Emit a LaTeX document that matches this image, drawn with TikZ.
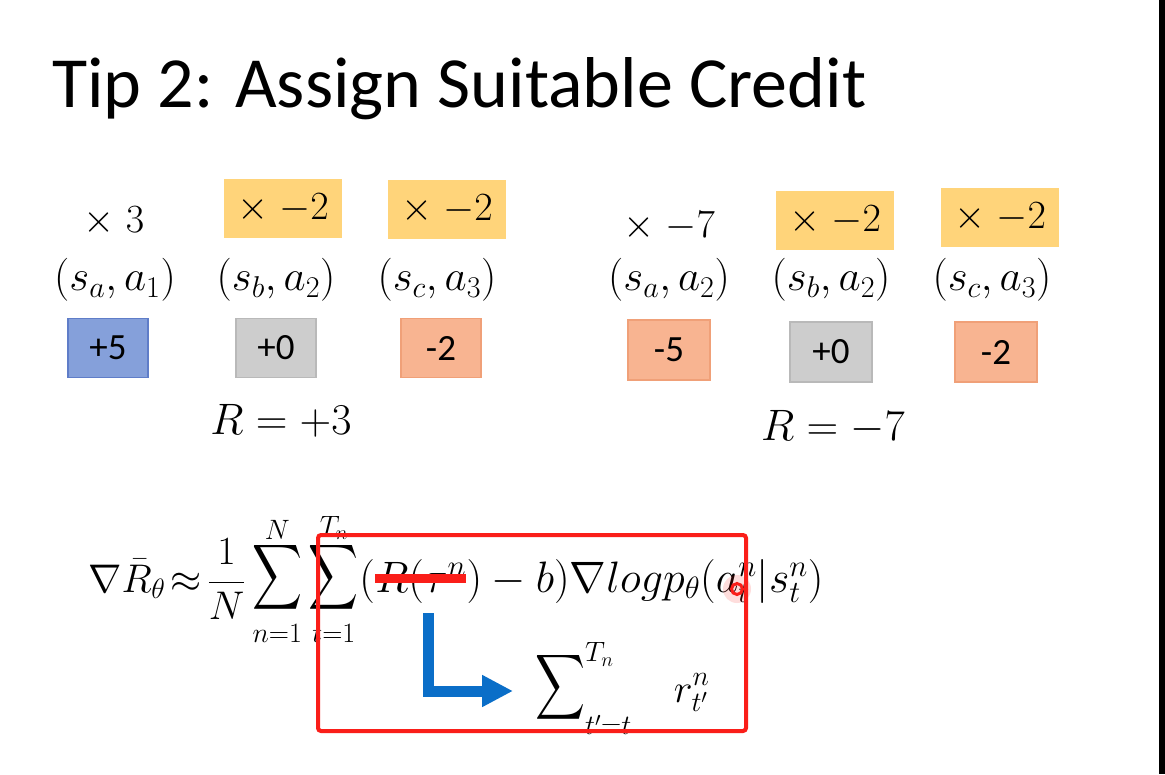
\RequirePackage{fix-cm}
\documentclass[tikz,border=0pt]{standalone}
\usepackage{graphicx}
\usepackage[no-math]{fontspec}
\setmainfont{Carlito}
\usetikzlibrary{arrows.meta,calc}
\definecolor{ogold}{RGB}{255,212,122}
\definecolor{bfill}{RGB}{133,160,218}
\definecolor{bdraw}{RGB}{95,125,200}
\definecolor{gfill}{RGB}{205,205,205}
\definecolor{gdraw}{RGB}{185,185,185}
\definecolor{sfill}{RGB}{248,180,145}
\definecolor{sdraw}{RGB}{240,160,120}
\definecolor{hred}{RGB}{250,30,25}
\definecolor{arrblue}{RGB}{10,110,200}
\newcommand{\tallsum}{\mathop{\vcenter{\hbox{\resizebox*{50pt}{82pt}{$\displaystyle\sum$}}}}}
\begin{document}
\begin{tikzpicture}[x=1pt,y=-1pt,
  mathlbl/.style={inner sep=0pt, font=\fontsize{40}{48}\selectfont},
  pairlbl/.style={inner sep=0pt, font=\fontsize{43}{50}\selectfont},
  obox/.style={fill=ogold, minimum width=118pt, minimum height=59pt, inner sep=0pt, font=\fontsize{40}{48}\selectfont},
  rbox/.style={line width=1.2pt, minimum width=80pt, minimum height=59pt, inner sep=0pt, font=\fontsize{37}{44}\selectfont},
  bluebox/.style={rbox, fill=bfill, draw=bdraw},
  graybox/.style={rbox, fill=gfill, draw=gdraw},
  salmbox/.style={rbox, fill=sfill, draw=sdraw},
  fml/.style={inner sep=0pt, font=\fontsize{40}{48}\selectfont},
  fmlb/.style={inner sep=0pt, font=\fontsize{44}{52}\selectfont},
  rlbl/.style={inner sep=0pt, font=\fontsize{44}{52}\selectfont}]
\useasboundingbox (0,0) rectangle (1165,774);
\fill[white] (0,0) rectangle (1165,774);
\fill[black] (1159,0) rectangle (1165,774);

% title
\node[inner sep=0pt, anchor=base west, font=\fontsize{72}{86}\selectfont] (title) at (52,107) {Tip 2: Assign Suitable Credit};

% left trajectory
\node[mathlbl] (m1) at (114,221) {$\times\;3$};
\node[obox] (m2) at (283,208) {$\times\;{-}2$};
\node[obox] (m3) at (447,209) {$\times\;{-}2$};
\node[pairlbl] (p1) at (115,280) {$(s_a,a_1)$};
\node[pairlbl] (p2) at (276,280) {$(s_b,a_2)$};
\node[pairlbl] (p3) at (437,280) {$(s_c,a_3)$};
\node[bluebox] (r1) at (108,348) {+5};
\node[graybox] (r2) at (276,348) {+0};
\node[salmbox] (r3) at (441,348) {-2};
\node[rlbl] (R1) at (281,421) {$R=+3$};

% right trajectory
\node[mathlbl] (m4) at (669,226) {$\times\;{-}7$};
\node[obox] (m5) at (835,220) {$\times\;{-}2$};
\node[obox] (m6) at (1000,217) {$\times\;{-}2$};
\node[pairlbl] (p4) at (669,280) {$(s_a,a_2)$};
\node[pairlbl] (p5) at (831,280) {$(s_b,a_2)$};
\node[pairlbl] (p6) at (992,280) {$(s_c,a_3)$};
\node[salmbox, minimum width=82pt, minimum height=60pt] (r4) at (669,350) {-5};
\node[graybox, minimum width=82pt, minimum height=60pt] (r5) at (831,352) {+0};
\node[salmbox, minimum width=82pt, minimum height=60pt] (r6) at (996,352) {-2};
\node[rlbl] (R2) at (833,427) {$R=-7$};

% formula
\node[fml, anchor=base west] (f1) at (88,592) {\thickmuskip=2.5mu$\displaystyle\nabla\bar{R}_\theta\approx\frac{1}{N}\tallsum_{n=1}^{N}\tallsum_{t=1}^{T_n}$};
\node[fmlb, anchor=base west] (f2a) at (f1.base east) {$($};
\node[fmlb, anchor=base west] (f2) at (f2a.base east) {$R(\tau^n$};
\node[fmlb, anchor=base west] (f3) at (f2.base east) {$)-b)\nabla logp_\theta(a_t^n|s_t^n)$};
\draw[hred, line width=9pt] ($(f2.west)+(0,-3)$) -- ($(f2.east)+(0,-3)$);

% replacement
\node[fml, anchor=base west] (s2) at (535,702) {$\displaystyle\tallsum\nolimits_{t'=t}^{T_n}\mkern16mu r_{t'}^n$};
\coordinate (a0) at (428,613);
\coordinate (a1) at (513,691);
\draw[arrblue, line width=11pt, line join=miter, -{Triangle[length=31pt,width=30pt]}] (a0) |- (a1);

% highlight box
\node[draw=hred, line width=4pt, rounded corners=3pt, minimum width=428pt, minimum height=196pt, inner sep=0pt] (hl) at (532,633) {};

% pointer
\fill[hred, opacity=0.15] (737,589) circle (14pt);
\node[circle, draw=hred, line width=3pt, minimum size=11pt, inner sep=0pt] (ptr) at (737,589) {};
\end{tikzpicture}
\end{document}
